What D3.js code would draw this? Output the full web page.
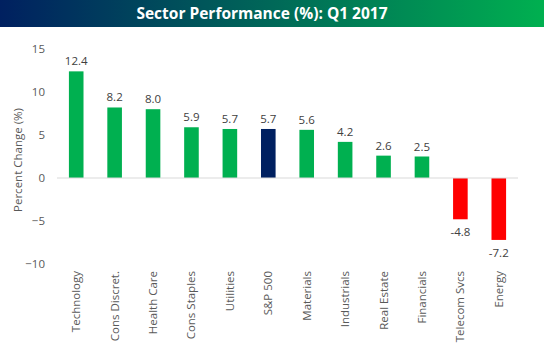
<!DOCTYPE html>
<html><head><meta charset="utf-8">
<script src="https://cdn.jsdelivr.net/npm/d3@7"></script>
<style>body{margin:0;background:#fff}</style>
</head><body>
<svg id="c" width="544" height="343"></svg>
<script>
const categories = ["Technology","Cons Discret.","Health Care","Cons Staples","Utilities","S&P 500","Materials","Industrials","Real Estate","Financials","Telecom Svcs","Energy"];
const values = [12.4, 8.2, 8.0, 5.9, 5.7, 5.7, 5.6, 4.2, 2.6, 2.5, -4.8, -7.2];
const yTicks = [-10, -5, 0, 5, 10, 15];
const title = "Sector Performance (%): Q1 2017";
const yLabel = "Percent Change (%)";

const svg = d3.select("#c");
const font = "'Open Sans', 'Noto Sans', sans-serif";

const defs = svg.append("defs");
const g = defs.append("linearGradient").attr("id","tg").attr("x1","0%").attr("x2","100%");
g.append("stop").attr("offset","0%").attr("stop-color","#002060");
g.append("stop").attr("offset","100%").attr("stop-color","#00B050");
svg.append("rect").attr("x",0).attr("y",0).attr("width",544).attr("height",27).attr("fill","url(#tg)");
svg.append("text").attr("x",262).attr("y",19).attr("text-anchor","middle")
  .attr("fill","#fff").attr("font-family",font).attr("font-weight","bold").attr("font-size",15.5)
  .text(title);

const x = d3.scaleBand().domain(categories).range([57, 518]).paddingInner(0.62).paddingOuter(0.31);
const y = d3.scaleLinear().domain([-10, 15]).range([264, 49]);

const yAxis = d3.axisLeft(y).tickValues(yTicks).tickSize(0).tickPadding(0).tickFormat(d3.format("d"));
const ya = svg.append("g").attr("transform","translate(45,0)").call(yAxis);
ya.select(".domain").remove();
ya.selectAll("text").attr("fill","#595959").attr("font-family",font).attr("font-size",11.5);

svg.append("text").attr("transform","translate(22,160) rotate(-90)")
  .attr("text-anchor","middle").attr("fill","#595959").attr("font-family",font).attr("font-size",11.5)
  .text(yLabel);

const color = (c, v) => c === "S&P 500" ? "#002060" : (v < 0 ? "#FF0000" : "#00B050");
svg.selectAll("rect.bar").data(categories).enter().append("rect").attr("class","bar")
  .attr("x", d => x(d)).attr("width", x.bandwidth())
  .attr("y", (d,i) => y(Math.max(0, values[i])))
  .attr("height", (d,i) => Math.abs(y(values[i]) - y(0)))
  .attr("fill", (d,i) => color(d, values[i]));

svg.append("line").attr("x1",57).attr("x2",518).attr("y1",y(0)).attr("y2",y(0))
  .attr("stroke","#d9d9d9").attr("stroke-width",1);

svg.selectAll("text.val").data(categories).enter().append("text").attr("class","val")
  .attr("x", d => x(d) + x.bandwidth()/2)
  .attr("y", (d,i) => values[i] >= 0 ? y(values[i]) - 6 : y(values[i]) + 17)
  .attr("text-anchor","middle").attr("fill","#404040").attr("font-family",font).attr("font-size",11.5)
  .text((d,i) => values[i].toFixed(1));

const xAxis = d3.axisBottom(x).tickSize(0).tickPadding(0);
const xa = svg.append("g").attr("transform","translate(0,271)").call(xAxis);
xa.select(".domain").remove();
xa.selectAll("text").attr("fill","#595959").attr("font-family",font).attr("font-size",11.5)
  .attr("text-anchor","end").attr("transform","rotate(-90)").attr("x",0).attr("y",0).attr("dy","0.35em");
</script>
</body></html>
